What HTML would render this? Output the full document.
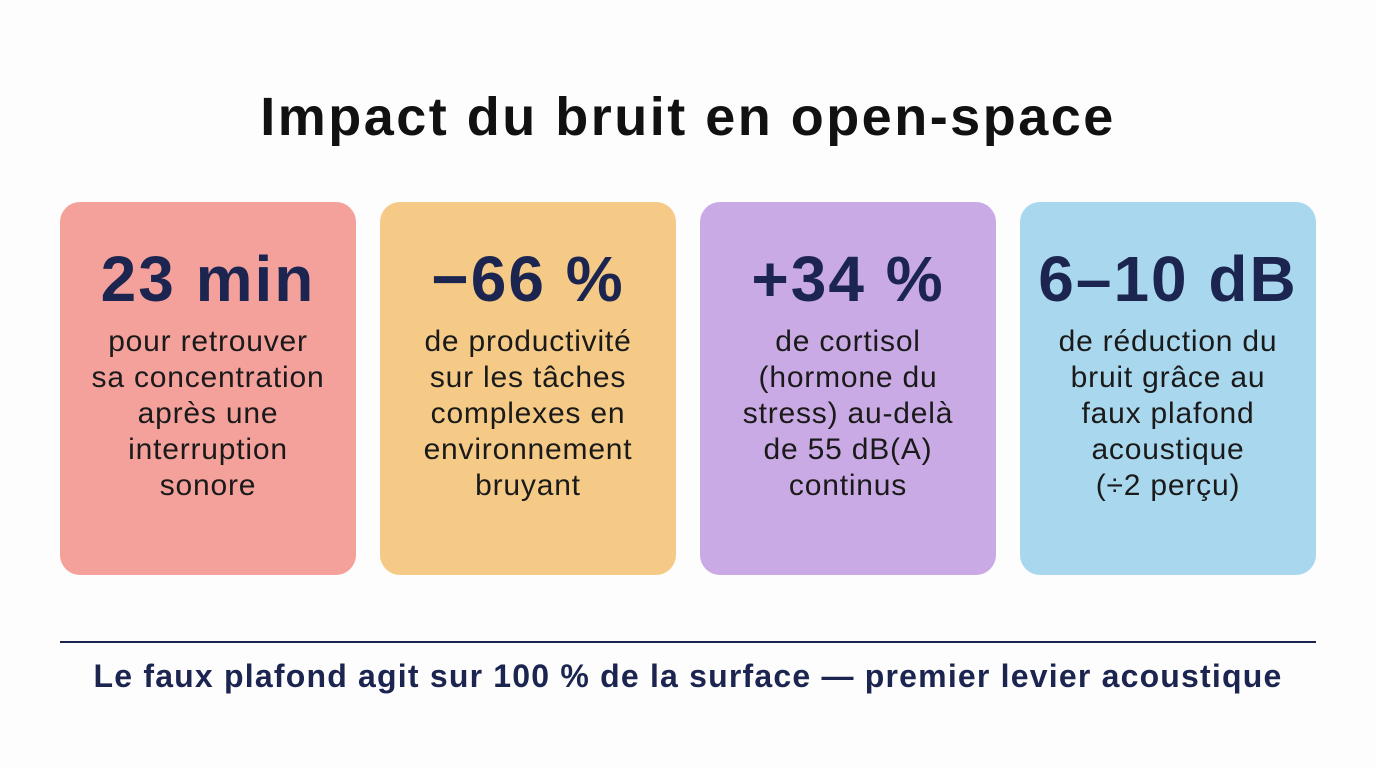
<!DOCTYPE html>
<html><head><meta charset="utf-8"><style>
body{margin:0;width:1376px;height:768px;background:#fdfdfd;font-family:"Liberation Sans",sans-serif;position:relative;overflow:hidden;color:#141414}
.title{position:absolute;left:0;width:1376px;top:86px;text-align:center;font-weight:bold;font-size:54px;letter-spacing:2.5px;color:#111}
.card{position:absolute;top:202px;width:296px;height:373px;border-radius:20px;text-align:center}
.num{position:absolute;top:0;width:100%;font-weight:bold;font-size:64px;color:#1b2550;line-height:1;padding-top:45px;letter-spacing:2px}
.txt{position:absolute;top:122px;width:100%;font-size:30px;line-height:36px;color:#1a1a1a;letter-spacing:0.8px}
.rule{position:absolute;left:60px;top:641px;width:1256px;height:1.5px;background:#1b2550}
.foot{position:absolute;left:0;width:1376px;top:658px;text-align:center;font-weight:bold;font-size:32px;letter-spacing:1.2px;color:#1b2550}
</style></head><body>
<div class="title">Impact du bruit en open-space</div>
<div class="card" style="left:60px;background:#f4a19c">
<div class="num">23 min</div>
<div class="txt">pour retrouver<br>sa concentration<br>après une<br>interruption<br>sonore</div></div>
<div class="card" style="left:380px;background:#f5ca86">
<div class="num">−66 %</div>
<div class="txt">de productivité<br>sur les tâches<br>complexes en<br>environnement<br>bruyant</div></div>
<div class="card" style="left:700px;background:#c9aae5">
<div class="num">+34 %</div>
<div class="txt">de cortisol<br>(hormone du<br>stress) au-delà<br>de 55 dB(A)<br>continus</div></div>
<div class="card" style="left:1020px;background:#a9d7ee">
<div class="num">6–10 dB</div>
<div class="txt">de réduction du<br>bruit grâce au<br>faux plafond<br>acoustique<br>(÷2 perçu)</div></div>
<div class="rule"></div>
<div class="foot">Le faux plafond agit sur 100 % de la surface — premier levier acoustique</div>
</body></html>
